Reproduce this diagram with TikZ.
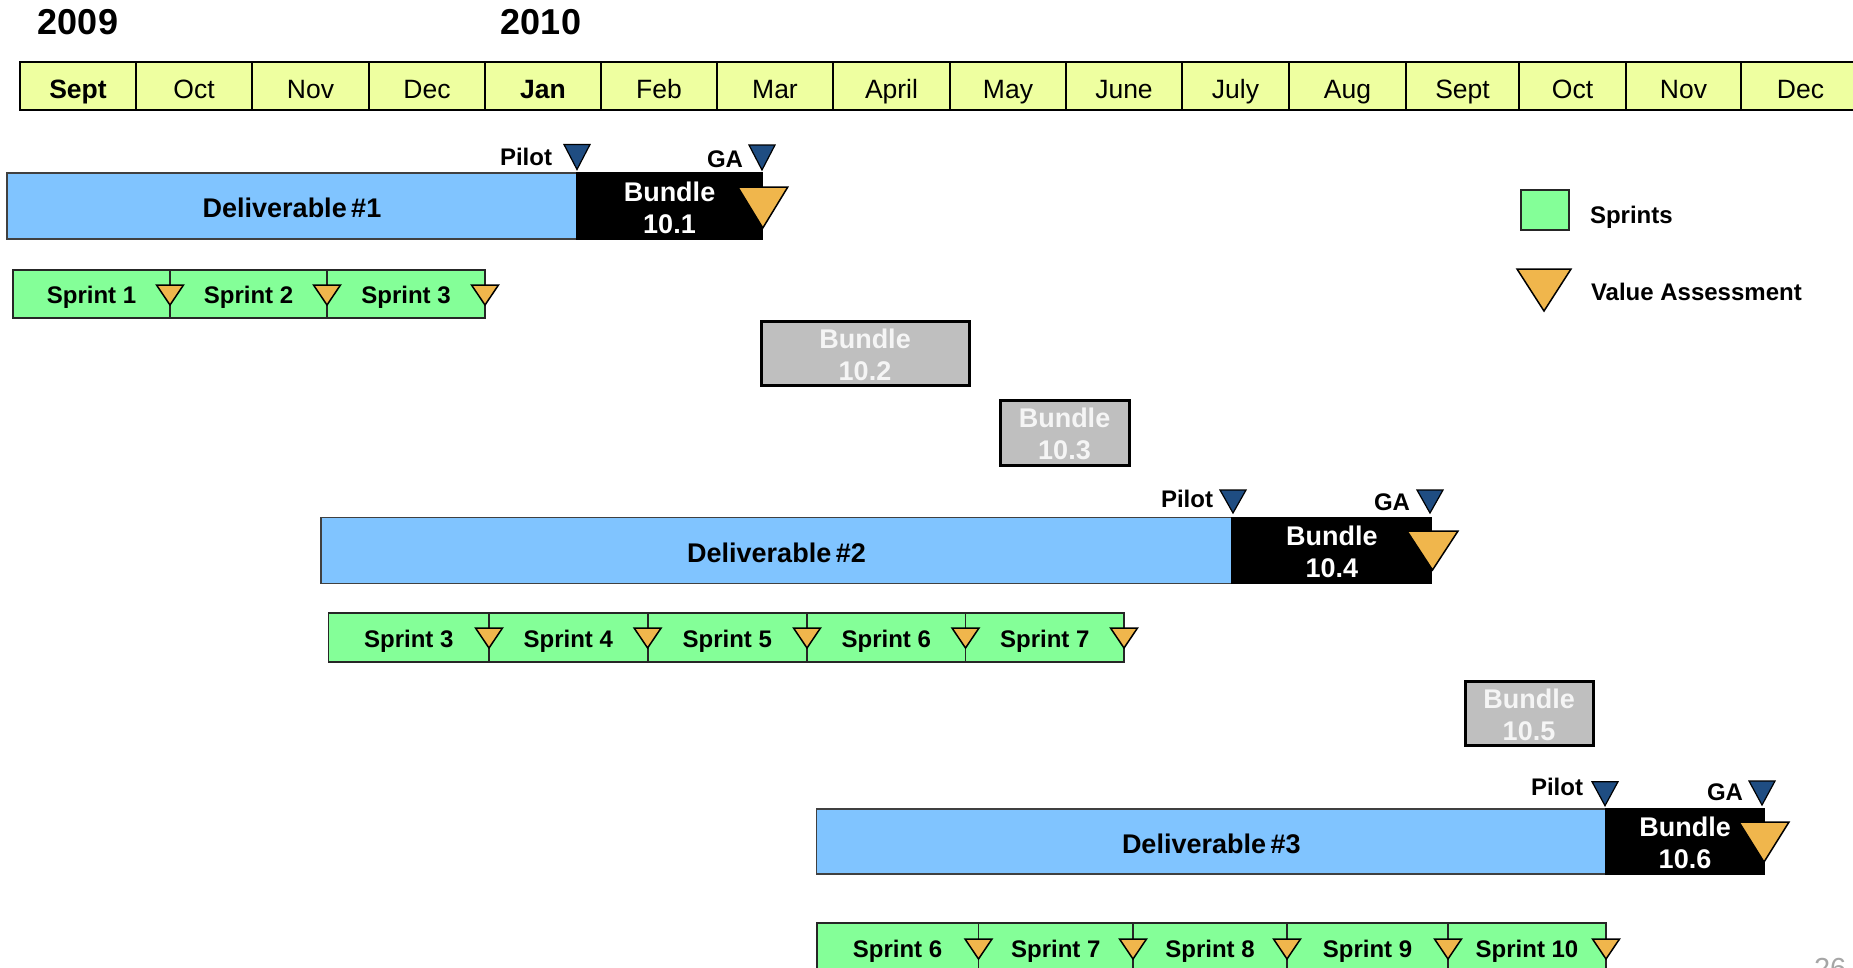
\documentclass[tikz,border=0pt]{standalone}
\usepackage{fontspec}
\setmainfont{Liberation Sans}

\definecolor{monthyellow}{RGB}{238,255,160}
\definecolor{delblue}{RGB}{128,196,255}
\definecolor{sprintgreen}{RGB}{132,255,152}
\definecolor{vaorange}{RGB}{240,182,76}
\definecolor{milenavy}{RGB}{31,77,130}
\definecolor{bundlegray}{RGB}{191,191,191}
\definecolor{pagegray}{RGB}{166,166,166}

% rectangle node spanning x1..x2, y1..y2 (y grows downwards)
\newcommand\spanbox[7]{%
  \node[#6, minimum width={(#3)-(#2)}, minimum height={(#5)-(#4)}]
    (#1) at ({((#2)+(#3))/2},{((#4)+(#5))/2}) {#7};}
% two-line bundle caption, set slightly below the centre of its box
\newcommand\bundlecaption[3]{%
  \node[bundletext, text=#2] (#1-text) at ([shift={(0,1.4)}]#1.center) {Bundle\\#3};}

\tikzset{
  plainnode/.style={inner sep=0pt, outer sep=0pt},
  monthcell/.style={plainnode, draw=black, line width=1.8pt, fill=monthyellow,
    font=\fontsize{26.5}{31}\selectfont, text height=24pt, text depth=0pt},
  sprintcell/.style={plainnode, draw=black!85, line width=1.8pt, fill=sprintgreen,
    font=\bfseries\fontsize{24}{29}\selectfont, text height=19.6pt, text depth=0pt},
  delivbar/.style={plainnode, draw=black!75, line width=1.5pt, fill=delblue,
    font=\bfseries\fontsize{27}{32}\selectfont, text height=23pt, text depth=0pt},
  bundlebar/.style={plainnode, draw=black, line width=1.5pt, fill=black},
  bundlebox/.style={plainnode, draw=black, line width=3pt, fill=bundlegray},
  bundletext/.style={plainnode, align=center, font=\bfseries\fontsize{27}{32}\selectfont},
  milelabel/.style={plainnode, font=\bfseries\fontsize{24}{29}\selectfont},
  yearlabel/.style={plainnode, font=\bfseries\fontsize{36}{43}\selectfont},
  vamark/.style={draw=black, line width=1.5pt, fill=vaorange},
  milemark/.style={draw=black, line width=1.2pt, fill=milenavy},
  % downward triangles, apex at the pic origin
  pics/valueassess/.style 2 args={code={
    \path[vamark] (0,0) -- (-#1/2,-#2) -- (#1/2,-#2) -- cycle;}},
  pics/milestone/.style 2 args={code={
    \path[milemark] (0,0) -- (-#1/2,-#2) -- (#1/2,-#2) -- cycle;}},
}

\begin{document}
\begin{tikzpicture}[x=1pt, y=-1pt]
\useasboundingbox (0,0) rectangle (1853,967);
\clip (0,0) rectangle (1853,967);

% years
\node[yearlabel] (y2009) at (78,22) {2009};
\node[yearlabel] (y2010) at (541,22) {2010};

% month scale
\foreach \a/\b/\t/\f [count=\i] in {
    20/136/Sept/\bfseries, 136/252/Oct/\mdseries, 252/369/Nov/\mdseries,
    369/485/Dec/\mdseries, 485/601/Jan/\bfseries, 601/717/Feb/\mdseries,
    717/833/Mar/\mdseries, 833/950/April/\mdseries, 950/1066/May/\mdseries,
    1066/1182/June/\mdseries, 1182/1289/July/\mdseries, 1289/1406/Aug/\mdseries,
    1406/1519/Sept/\mdseries, 1519/1626/Oct/\mdseries, 1626/1741/Nov/\mdseries,
    1741/1860/Dec/\mdseries}
  {\spanbox{m\i}{\a}{\b}{62}{110}{monthcell}{\f\t}}

% ---- Deliverable 1 ----
\spanbox{d1}{7}{577}{173}{239}{delivbar}{Deliverable\,\#1}
\spanbox{b101}{577}{762}{173}{239}{bundlebar}{}
\bundlecaption{b101}{white}{10.1}
\pic at (577,169.5) {milestone={26}{25}};
\pic at (762,170) {milestone={26}{25}};
\node[milelabel, anchor=base east] (pilot1) at (552,165) {Pilot};
\node[milelabel, anchor=base east] (ga1) at (743,167) {GA};
\pic at (762.8,228) {valueassess={50}{41}};

\foreach \a/\b [count=\i] in {13/170, 170/327, 327/485}
  {\spanbox{sa\i}{\a}{\b}{270}{318}{sprintcell}{Sprint \i}}
\foreach \b in {170,327,485} \pic at (\b,305) {valueassess={27}{20}};

% intermediate bundles
\spanbox{b102}{761}{969}{321}{385}{bundlebox}{}
\bundlecaption{b102}{black!4}{10.2}
\spanbox{b103}{1000}{1129}{400}{465}{bundlebox}{}
\bundlecaption{b103}{black!4}{10.3}

% ---- Deliverable 2 ----
\spanbox{d2}{321}{1232}{517.7}{583.3}{delivbar}{Deliverable\,\#2}
\spanbox{b104}{1232}{1431.7}{517.7}{583.3}{bundlebar}{}
\bundlecaption{b104}{white}{10.4}
\pic at (1233,513) {milestone={26}{23}};
\pic at (1430,513) {milestone={26}{23}};
\node[milelabel, anchor=base east] (pilot2) at (1213,507) {Pilot};
\node[milelabel, anchor=base east] (ga2) at (1410,510) {GA};
\pic at (1432.5,570) {valueassess={51}{39}};

\foreach \a/\b/\t [count=\i] in {328.5/489/3, 489/647.6/4, 647.6/807/5, 807/965.5/6, 965.5/1124/7}
  {\spanbox{sb\i}{\a}{\b}{613}{662}{sprintcell}{Sprint \t}}
\foreach \b in {489,647.6,807,965.5,1124} \pic at (\b,648) {valueassess={27}{20}};

\spanbox{b105}{1465}{1593}{681}{745}{bundlebox}{}
\bundlecaption{b105}{black!4}{10.5}

% ---- Deliverable 3 ----
\spanbox{d3}{816.6}{1606}{809}{874}{delivbar}{Deliverable\,\#3}
\spanbox{b106}{1606}{1764}{809}{874}{bundlebar}{}
\bundlecaption{b106}{white}{10.6}
\pic at (1605,805.7) {milestone={26}{24}};
\pic at (1762,805) {milestone={26}{24}};
\node[milelabel, anchor=base east] (pilot3) at (1583,795) {Pilot};
\node[milelabel, anchor=base east] (ga3) at (1743,800) {GA};
\pic at (1764,862) {valueassess={50}{40}};

\foreach \a/\b/\t [count=\i] in {816.6/978.5/6, 978.5/1133/7, 1133/1287/8, 1287/1448/9, 1448/1606/10}
  {\spanbox{sc\i}{\a}{\b}{923}{972}{sprintcell}{Sprint \t}}
\foreach \b in {978.5,1133,1287,1448,1606} \pic at (\b,959) {valueassess={27}{20}};

% legend
\spanbox{legsprint}{1521}{1569}{190}{230}{sprintcell}{}
\node[milelabel, anchor=base west] (legsprinttext) at (1590,223) {Sprints};
\pic at (1544,311) {valueassess={54}{42}};
\node[milelabel, anchor=base west] (legvatext) at (1591,300) {Value Assessment};

% page number
\node[plainnode, text=pagegray, font=\fontsize{29}{35}\selectfont, anchor=base west]
  (pagenum) at (1814,978) {26};
\end{tikzpicture}
\end{document}
